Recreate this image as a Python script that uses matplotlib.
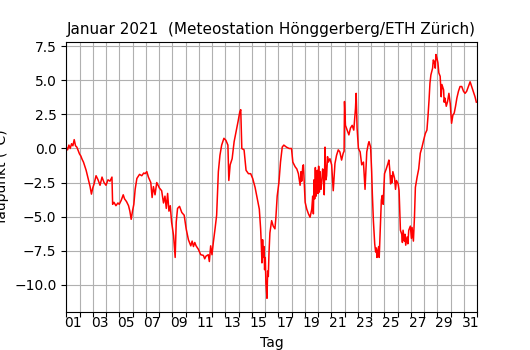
import numpy as np
import matplotlib.pyplot as plt
from matplotlib.ticker import MultipleLocator, FixedLocator, FixedFormatter

# Zeitpunkte in Tagen (1.0 = 1. Januar 00:00) und Taupunkt in Grad C
tage = [
    1.0, 1.1, 1.2, 1.3, 1.4, 1.5, 1.6, 1.7, 1.8, 1.9,
    2.0, 2.1, 2.2, 2.3, 2.4, 2.5, 2.6, 2.7, 2.8, 2.9,
    3.0, 3.1, 3.25, 3.4, 3.55, 3.7, 3.85, 4.0, 4.15, 4.3,
    4.45, 4.5, 4.6, 4.75, 4.9, 5.0, 5.15, 5.3, 5.4, 5.55,
    5.7, 5.8, 5.9, 6.0, 6.1, 6.2, 6.33, 6.53, 6.7, 6.85,
    6.95, 7.08, 7.2, 7.38, 7.48, 7.58, 7.7, 7.83, 8.03, 8.2,
    8.34, 8.45, 8.55, 8.65, 8.75, 8.85, 8.95, 9.1, 9.22, 9.3,
    9.4, 9.55, 9.72, 9.9, 10.05, 10.22, 10.4, 10.5, 10.6, 10.7,
    10.8, 10.97, 11.15, 11.35, 11.45, 11.55, 11.72, 11.8, 11.9, 12.0,
    12.1, 12.23, 12.35, 12.43, 12.48, 12.6, 12.73, 12.9, 13.05, 13.2,
    13.27, 13.37, 13.52, 13.67, 13.82, 13.97, 14.1, 14.17, 14.25, 14.42,
    14.57, 14.75, 14.92, 15.07, 15.25, 15.42, 15.57, 15.67, 15.72, 15.77,
    15.82, 15.87, 15.92, 15.97, 16.02, 16.07, 16.15, 16.2, 16.25, 16.3,
    16.37, 16.5, 16.62, 16.75, 16.82, 16.92, 17.05, 17.17, 17.3, 17.42,
    17.62, 17.82, 18.0, 18.1, 18.28, 18.4, 18.52, 18.65, 18.72, 18.77,
    18.85, 18.9, 19.03, 19.15, 19.28, 19.4, 19.53, 19.6, 19.65, 19.7,
    19.75, 19.8, 19.85, 19.9, 19.95, 20.0, 20.05, 20.1, 20.15, 20.22,
    20.28, 20.35, 20.4, 20.47, 20.53, 20.6, 20.65, 20.72, 20.78, 20.9,
    21.03, 21.15, 21.28, 21.4, 21.53, 21.65, 21.78, 21.9, 21.97, 22.0,
    22.07, 22.2, 22.33, 22.45, 22.58, 22.7, 22.83, 22.88, 22.95, 23.05,
    23.18, 23.3, 23.43, 23.55, 23.68, 23.8, 23.85, 23.97, 24.05, 24.1,
    24.18, 24.28, 24.35, 24.4, 24.45, 24.52, 24.58, 24.62, 24.68, 24.78,
    24.85, 24.92, 25.02, 25.15, 25.28, 25.35, 25.42, 25.48, 25.52, 25.58,
    25.65, 25.78, 25.85, 25.92, 26.05, 26.12, 26.22, 26.32, 26.37, 26.42,
    26.52, 26.57, 26.62, 26.72, 26.78, 26.85, 26.97, 27.05, 27.1, 27.2,
    27.28, 27.35, 27.48, 27.6, 27.72, 27.85, 27.97, 28.1, 28.22, 28.3,
    28.38, 28.45, 28.52, 28.65, 28.7, 28.77, 28.85, 28.9, 28.97, 29.05,
    29.12, 29.22, 29.3, 29.35, 29.48, 29.52, 29.58, 29.68, 29.78, 29.88,
    29.98, 30.08, 30.18, 30.28, 30.38, 30.48, 30.6, 30.72, 30.85, 30.98,
    31.1, 31.22, 31.35, 31.48, 31.6, 31.72, 31.85, 31.95,
]
taupunkt = [
    0.1, -0.1, 0.25, 0.0, 0.35, 0.2, 0.65, 0.2, 0.1, -0.15,
    -0.4, -0.55, -0.8, -1.0, -1.3, -1.6, -2.0, -2.4, -2.8, -3.35,
    -2.9, -2.6, -2.0, -2.3, -2.7, -2.1, -2.5, -2.7, -2.3, -2.4,
    -2.1, -4.1, -3.95, -4.2, -4.0, -4.1, -3.8, -3.4, -3.7, -3.9,
    -4.2, -4.6, -5.2, -4.6, -4.1, -3.0, -2.2, -1.9, -2.0, -1.8,
    -1.85, -1.7, -2.1, -2.5, -3.6, -2.8, -3.4, -2.5, -2.9, -3.1,
    -4.0, -3.5, -4.4, -3.3, -4.6, -4.2, -5.4, -6.4, -8.0, -5.4,
    -4.4, -4.25, -4.7, -4.9, -5.9, -6.7, -7.15, -6.8, -7.2, -6.9,
    -7.15, -7.4, -7.8, -7.85, -8.1, -7.9, -7.8, -8.3, -7.15, -7.8,
    -6.9, -5.9, -4.9, -3.0, -1.7, -0.5, 0.25, 0.75, 0.6, 0.25,
    -2.35, -1.2, -0.75, 0.5, 1.25, 2.0, 2.7, 2.85, 0.0, -0.1,
    -1.6, -1.85, -1.85, -2.2, -2.85, -3.7, -4.45, -5.9, -7.0, -8.4,
    -6.7, -8.0, -7.2, -8.9, -8.0, -9.9, -11.0, -9.0, -9.4, -7.7,
    -6.2, -5.3, -5.7, -5.9, -5.1, -3.5, -2.5, -1.0, 0.1, 0.25,
    0.1, 0.0, 0.0, -1.0, -1.35, -1.5, -1.85, -2.7, -1.7, -2.4,
    -1.3, -1.2, -3.95, -4.45, -4.8, -5.05, -4.45, -3.5, -4.8, -2.3,
    -3.7, -1.4, -3.5, -2.0, -1.6, -3.3, -1.3, -3.2, -1.7, -3.0,
    -2.5, -1.5, -1.7, -3.4, 0.1, -2.3, -2.0, -0.6, -1.0, -0.75,
    -1.2, -3.1, -1.1, -0.5, -0.1, -0.25, -0.85, -0.35, -0.2, 3.45,
    1.7, 1.35, 1.0, 1.5, 1.7, 1.35, 2.95, 4.05, 1.5, 0.0,
    -0.25, -1.2, -1.0, -3.0, -0.25, 0.35, 0.5, 0.1, -1.7, -3.3,
    -5.3, -7.0, -7.6, -7.3, -8.0, -7.5, -7.2, -8.0, -6.5, -3.8,
    -3.45, -4.1, -1.85, -1.5, -1.1, -0.85, -1.6, -2.6, -2.0, -2.5,
    -1.7, -2.2, -3.0, -2.35, -2.6, -3.1, -6.0, -6.3, -6.9, -6.0,
    -6.8, -6.3, -7.1, -6.5, -7.0, -6.0, -5.7, -6.6, -5.8, -6.8,
    -5.05, -2.85, -2.1, -1.5, -0.35, 0.1, 0.6, 1.1, 1.35, 2.35,
    3.55, 4.8, 5.4, 5.9, 6.5, 6.4, 5.9, 6.9, 6.65, 6.3,
    5.55, 5.3, 3.8, 4.7, 4.3, 3.4, 3.7, 3.1, 3.45, 4.05,
    3.3, 1.85, 2.45, 2.6, 3.1, 3.7, 4.2, 4.55, 4.55, 4.2,
    4.05, 4.2, 4.55, 4.9, 4.55, 4.2, 3.8, 3.4,
]

tag_labels = ['%02d' % d for d in range(1, 32, 2)]

fig, ax = plt.subplots(figsize=(5.3, 3.5), dpi=100)
ax.plot(tage, taupunkt, color='red', lw=1.1)

ax.set_xlim(1, 32)
ax.set_ylim(-11.97, 7.82)
ax.xaxis.set_major_locator(MultipleLocator(1))
ax.xaxis.set_major_formatter(plt.NullFormatter())
ax.xaxis.set_minor_locator(FixedLocator([d + 0.5 for d in range(1, 32, 2)]))
ax.xaxis.set_minor_formatter(FixedFormatter(tag_labels))
ax.tick_params(axis='x', which='minor', length=0)
ax.yaxis.set_major_locator(MultipleLocator(2.5))
ax.grid(True, which='major')

ax.set_xlabel('Tag')
# wie im Original sitzt das Label knapp am linken Rand
ax.set_ylabel('Taupunkt (°C)')
ax.set_title('Januar 2021  (Meteostation Hönggerberg/ETH Zürich)', fontsize=11)

fig.savefig('out.png', dpi=100)
